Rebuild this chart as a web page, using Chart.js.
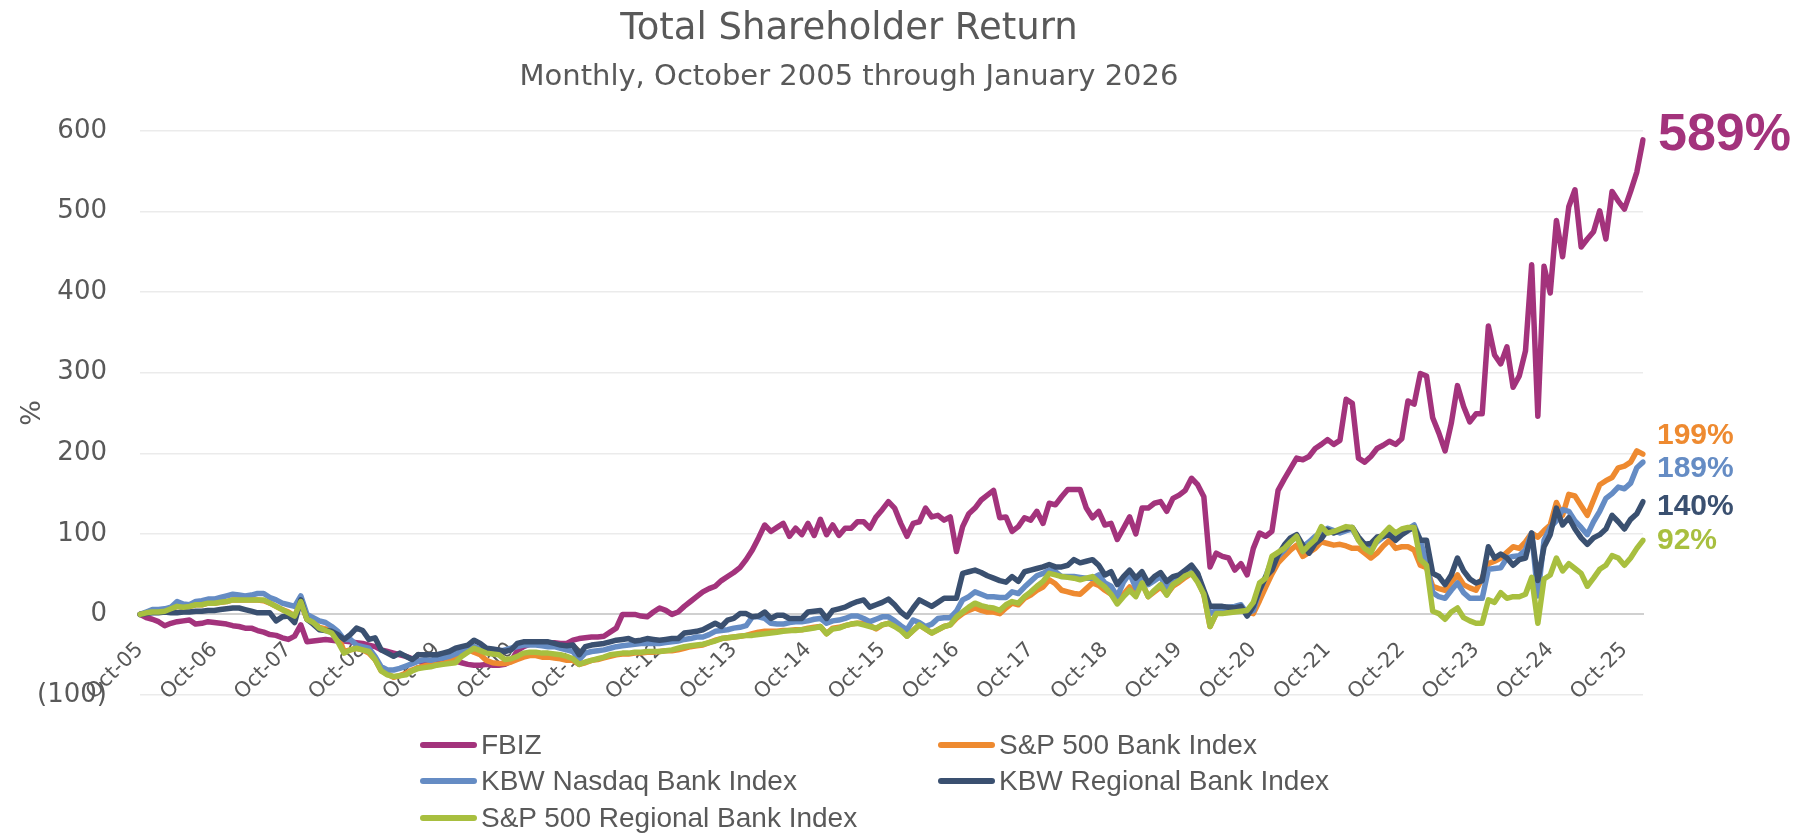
<!DOCTYPE html>
<html>
<head>
<meta charset="utf-8">
<script src="https://cdn.jsdelivr.net/npm/chart.js@4.4.1/dist/chart.umd.min.js"></script>
<style>
  body{margin:0;background:#fff}
  #wrap{position:relative;width:1804px;height:835px;overflow:hidden;font-family:"DejaVu Sans",sans-serif;color:#595959}
  #c{position:absolute;left:0;top:0}
  .ttl{position:absolute;left:0;width:1698px;text-align:center;white-space:nowrap}
  #t1{top:5px;font-size:37px}
  #t2{top:58px;font-size:29px}
  .leg{position:absolute;font-family:"Liberation Sans",Arial,sans-serif;font-size:28px;line-height:34px;white-space:nowrap;color:#595959}
  .leg i{position:absolute;left:-61px;top:14px;width:57px;height:6px;border-radius:3px}
</style>
</head>
<body>
<div id="wrap">
  <canvas id="c" width="1804" height="835"></canvas>
  <div class="ttl" id="t1">Total Shareholder Return</div>
  <div class="ttl" id="t2">Monthly, October 2005 through January 2026</div>
  <div id="legend"></div>
</div>
<script>
// monthly total return (%), Oct-05 .. Jan-26, one row per Oct..Sep year
const seriesNames = ["FBIZ", "S&P 500 Bank Index", "KBW Nasdaq Bank Index", "KBW Regional Bank Index", "S&P 500 Regional Bank Index"];
const seriesColors = ["#a3337c", "#ee8a30", "#658cc4", "#3a5070", "#a8bf3f"];
const tickLabels = ["Oct-05","Oct-06","Oct-07","Oct-08","Oct-09","Oct-10","Oct-11","Oct-12","Oct-13","Oct-14","Oct-15","Oct-16","Oct-17","Oct-18","Oct-19","Oct-20","Oct-21","Oct-22","Oct-23","Oct-24","Oct-25"];
const monthNames = ["Jan","Feb","Mar","Apr","May","Jun","Jul","Aug","Sep","Oct","Nov","Dec"];

const fbiz = [
  0, -4, -6, -9, -14, -11, -9, -8, -7, -12, -11, -9,
  -10, -11, -12, -14, -15, -17, -17, -20, -22, -25, -26, -29,
  -31, -27, -13, -34, -33, -32, -31, -32, -33, -33, -34, -35,
  -36, -38, -40, -44, -46, -48, -50, -52, -55, -58, -60, -64,
  -59, -58, -57, -58, -60, -62, -63, -63, -62, -63, -63, -62,
  -58, -45, -40, -37, -36, -36, -35, -35, -36, -36, -32, -30,
  -29, -28, -28, -27, -22, -17, 0, 0, 0, -2, -3, 3,
  8, 5, 0, 3, 10, 16, 22, 28, 32, 35, 42, 47,
  52, 58, 68, 80, 95, 111, 103, 108, 113, 97, 107, 99,
  113, 98, 118, 99, 111, 98, 107, 107, 115, 115, 107, 121,
  130, 140, 132, 113, 97, 113, 115, 132, 121, 123, 117, 121,
  78, 109, 125, 132, 142, 148, 154, 120, 121, 103, 109, 120,
  117, 128, 113, 138, 136, 146, 155, 155, 155, 132, 120, 128,
  111, 113, 93, 107, 121, 100, 132, 132, 138, 140, 128, 144,
  148, 154, 169, 161, 146, 59, 76, 72, 70, 55, 63, 49,
  82, 101, 97, 103, 154, 168, 181, 194, 192, 196, 206, 211,
  217, 211, 216, 267, 262, 194, 189, 196, 206, 210, 215, 211,
  218, 265, 261, 299, 296, 244, 225, 203, 237, 284, 258, 239,
  249, 249, 358, 322, 311, 332, 282, 296, 327, 434, 246, 432,
  399, 489, 444, 506, 527, 456, 466, 475, 501, 466, 525, 513,
  503, 525, 549, 589
];
const spBank = [
  0, 2, 4, 4, 4, 7, 10, 9, 10, 12, 12, 14,
  14, 15, 16, 18, 18, 18, 18, 18, 17, 14, 10, 6,
  3, -2, 15, -6, -10, -16, -18, -21, -26, -46, -44, -42,
  -44, -48, -56, -70, -74, -78, -76, -73, -69, -66, -64, -62,
  -62, -61, -58, -53, -46, -43, -47, -50, -57, -60, -61, -61,
  -59, -56, -53, -51, -51, -53, -53, -54, -55, -57, -57, -62,
  -60, -57, -56, -54, -52, -50, -49, -49, -48, -48, -47, -47,
  -46, -45, -45, -44, -42, -40, -39, -38, -35, -32, -30, -29,
  -28, -27, -26, -24, -22, -21, -21, -21, -20, -20, -19, -19,
  -17, -16, -15, -24, -17, -16, -14, -12, -11, -11, -14, -18,
  -13, -11, -14, -18, -27, -20, -13, -18, -23, -19, -15, -13,
  -5, 1, 5, 8, 5, 3, 3, 1, 8, 14, 12, 20,
  24, 30, 34, 43, 38, 30, 28, 26, 25, 32, 39, 36,
  30, 25, 17, 25, 34, 25, 39, 22, 28, 34, 25, 35,
  40, 46, 51, 42, 25, -15, 1, 2, 3, 4, 5, 3,
  1, 17, 34, 50, 64, 72, 80, 86, 72, 77, 82, 90,
  88, 86, 87, 85, 82, 82, 76, 70, 76, 85, 92, 82,
  84, 84, 80, 61, 58, 35, 32, 30, 40, 49, 37, 33,
  30, 45, 63, 66, 70, 77, 84, 82, 90, 101, 96, 104,
  111, 139, 123, 149, 147, 135, 123, 142, 161, 166, 170, 182,
  184, 189, 203, 199
];
const kbwNasdaq = [
  0, 3, 6, 6, 7, 9, 16, 13, 12, 16, 17, 19,
  19, 21, 23, 25, 24, 23, 24, 26, 26, 21, 18, 14,
  12, 10, 23, 0, -4, -8, -10, -15, -21, -31, -31, -38,
  -40, -42, -52, -65, -69, -69, -67, -64, -61, -58, -56, -57,
  -55, -54, -52, -49, -46, -42, -40, -43, -46, -46, -46, -44,
  -42, -40, -38, -38, -38, -39, -40, -40, -42, -44, -46, -56,
  -48, -46, -45, -44, -42, -40, -39, -38, -37, -36, -36, -36,
  -36, -35, -34, -33, -31, -30, -28, -28, -25, -21, -20, -19,
  -17, -16, -14, -3, -3, -5, -11, -12, -12, -10, -9, -9,
  -8, -6, -5, -11, -8, -7, -5, -2, -2, -5, -9, -6,
  -3, -3, -8, -14, -19, -7, -10, -15, -12, -5, -4, -4,
  4, 18, 22, 28, 25, 22, 22, 21, 21, 28, 26, 34,
  41, 48, 51, 55, 53, 47, 47, 47, 46, 45, 45, 49,
  39, 35, 22, 40, 51, 33, 51, 37, 42, 47, 33, 40,
  47, 53, 59, 50, 25, 1, 5, 7, 9, 10, 12, 1,
  5, 30, 47, 68, 72, 80, 90, 97, 84, 90, 97, 102,
  107, 104, 101, 104, 106, 93, 85, 82, 90, 96, 101, 96,
  101, 106, 111, 92, 63, 27, 22, 20, 30, 39, 27, 20,
  20, 20, 56, 57, 58, 70, 72, 73, 80, 101, 23, 92,
  108, 116, 130, 128, 116, 108, 99, 115, 128, 144, 150, 158,
  156, 163, 182, 189
];
const kbwRegional = [
  0, 1, 2, 2, 3, 2, 2, 3, 3, 4, 4, 5,
  5, 6, 7, 8, 8, 6, 4, 2, 2, 2, -8, -3,
  -2, -10, 18, -6, -12, -19, -20, -21, -25, -31, -25, -17,
  -20, -31, -29, -44, -48, -52, -48, -52, -56, -50, -50, -50,
  -50, -48, -46, -42, -40, -38, -32, -36, -42, -43, -44, -46,
  -44, -36, -34, -34, -34, -34, -34, -36, -38, -39, -38, -50,
  -40, -38, -37, -36, -34, -32, -31, -30, -33, -32, -30, -31,
  -32, -31, -30, -30, -23, -22, -21, -19, -15, -11, -15, -7,
  -5, 1, 1, -3, -2, 3, -5, -1, -1, -5, -5, -5,
  3, 4, 5, -5, 5, 7, 9, 13, 16, 18, 9, 12,
  15, 19, 12, 3, -3, 8, 18, 14, 10, 15, 20, 20,
  20, 51, 53, 55, 52, 48, 45, 42, 40, 47, 41, 53,
  55, 57, 59, 62, 59, 59, 61, 68, 64, 66, 68, 61,
  49, 53, 37, 47, 55, 45, 53, 39, 47, 52, 41, 47,
  49, 55, 61, 51, 30, 10, 10, 10, 9, 8, 10, -2,
  10, 30, 47, 55, 74, 86, 95, 99, 86, 76, 88, 94,
  105, 101, 104, 106, 108, 96, 87, 88, 96, 97, 99, 92,
  99, 104, 108, 92, 92, 51, 47, 37, 49, 70, 54, 44,
  39, 42, 84, 70, 75, 70, 61, 68, 70, 101, 42, 84,
  99, 132, 111, 120, 106, 95, 87, 95, 99, 106, 123, 115,
  106, 118, 125, 140
];
const spRegional = [
  0, 2, 3, 3, 4, 7, 10, 9, 10, 12, 12, 14,
  14, 15, 16, 18, 18, 18, 18, 18, 18, 14, 10, 6,
  2, -2, 16, -6, -10, -17, -20, -23, -34, -48, -44, -42,
  -44, -46, -56, -70, -75, -77, -76, -75, -70, -67, -66, -65,
  -63, -62, -61, -60, -52, -47, -42, -45, -48, -49, -50, -56,
  -55, -52, -48, -47, -47, -48, -48, -49, -50, -52, -55, -62,
  -59, -57, -55, -53, -50, -49, -48, -48, -47, -47, -46, -46,
  -46, -45, -44, -42, -40, -39, -38, -37, -35, -33, -30, -29,
  -28, -27, -26, -26, -25, -24, -23, -22, -21, -20, -20, -19,
  -18, -17, -15, -24, -18, -17, -14, -12, -11, -13, -15, -17,
  -13, -11, -15, -20, -27, -20, -13, -18, -23, -19, -15, -13,
  -3, 3, 9, 14, 11, 9, 8, 5, 12, 16, 14, 22,
  28, 35, 41, 51, 49, 47, 46, 45, 43, 45, 47, 40,
  34, 25, 13, 22, 30, 22, 39, 22, 30, 37, 24, 37,
  42, 48, 51, 40, 25, -15, 1, 1, 2, 3, 4, 5,
  15, 39, 45, 72, 77, 82, 90, 97, 78, 86, 93, 109,
  101, 103, 106, 109, 108, 92, 82, 77, 92, 100, 108, 101,
  106, 108, 108, 68, 61, 4, 1, -6, 3, 8, -4, -8,
  -11, -11, 18, 15, 27, 20, 22, 22, 25, 46, -11, 44,
  49, 70, 54, 63, 57, 51, 35, 45, 56, 61, 73, 70,
  61, 70, 82, 92
];

const seriesData = [fbiz, spBank, kbwNasdaq, kbwRegional, spRegional];

// month categories Oct-05 .. Jan-26
const categories = [];
for (let k = 0; k < fbiz.length; k++) {
  const m = (9 + k) % 12, yr = 5 + Math.floor((9 + k) / 12);
  categories.push(monthNames[m] + "-" + String(yr).padStart(2, "0"));
}

// where the end-of-line labels sit (in y units) and their size
const endLabelSpots = [
  {at: 594, size: 52, dx: 15},
  {at: 222, size: 30, dx: 14},
  {at: 181, size: 30, dx: 14},
  {at: 134, size: 30, dx: 14},
  {at: 91, size: 30, dx: 14}
];

const endLabels = {
  id: "endLabels",
  afterDatasetsDraw(chart) {
    const ctx = chart.ctx, y = chart.scales.y;
    chart.data.datasets.forEach((ds, k) => {
      const s = endLabelSpots[k];
      ctx.save();
      ctx.font = "bold " + s.size + "px 'Liberation Sans', Arial, sans-serif";
      ctx.fillStyle = ds.borderColor;
      ctx.textBaseline = "middle";
      ctx.fillText(ds.data[ds.data.length - 1] + "%", chart.chartArea.right + s.dx, y.getPixelForValue(s.at));
      ctx.restore();
    });
  }
};

Chart.defaults.font.family = "'DejaVu Sans', sans-serif";
Chart.defaults.color = "#595959";

new Chart(document.getElementById("c"), {
  type: "line",
  data: {
    labels: categories,
    datasets: seriesData.map((d, k) => ({
      label: seriesNames[k],
      data: d,
      borderColor: seriesColors[k],
      backgroundColor: seriesColors[k],
      borderWidth: 5.5,
      pointRadius: 0,
      tension: 0,
      borderJoinStyle: "round",
      borderCapStyle: "round",
      order: seriesData.length - 1 - k
    }))
  },
  options: {
    responsive: false,
    animation: false,
    layout: {padding: {left: 0, right: 161, top: 131, bottom: 140}},
    plugins: {legend: {display: false}, tooltip: {enabled: false}, title: {display: false}},
    scales: {
      x: {
        type: "category",
        position: {y: 0},
        offset: false,
        grid: {display: false, drawTicks: false},
        border: {display: true, color: "#d0d0d0", width: 2},
        ticks: {
          autoSkip: false, maxRotation: 45, minRotation: 45, padding: 23,
          font: {size: 21}, color: "#595959",
          callback(v, i) { return tickLabels.includes(categories[i]) ? categories[i] : ""; }
        }
      },
      y: {
        min: -100, max: 600,
        afterFit(s) { s.width = 140; },
        border: {display: false},
        grid: {
          drawTicks: false,
          color: c => c.tick && c.tick.value === 0 ? "#d0d0d0" : "#ebebeb",
          lineWidth: c => c.tick && c.tick.value === 0 ? 2 : 1.5
        },
        ticks: {
          stepSize: 100, padding: 33, font: {size: 26}, color: "#595959",
          callback: v => v < 0 ? "(" + Math.abs(v) + ")" : v
        },
        title: {display: true, text: "%", font: {size: 27}, color: "#595959", padding: {top: 17, bottom: 0}}
      }
    }
  },
  plugins: [endLabels]
});

// legend: two columns, as in the original
const legendSpots = [[481, 728], [999, 728], [481, 764], [999, 764], [481, 801]];
const legend = document.getElementById("legend");
seriesNames.forEach((n, k) => {
  const d = document.createElement("div");
  d.className = "leg";
  d.style.left = legendSpots[k][0] + "px";
  d.style.top = legendSpots[k][1] + "px";
  d.innerHTML = '<i style="background:' + seriesColors[k] + '"></i>';
  d.appendChild(document.createTextNode(n));
  legend.appendChild(d);
});
</script>
</body>
</html>
